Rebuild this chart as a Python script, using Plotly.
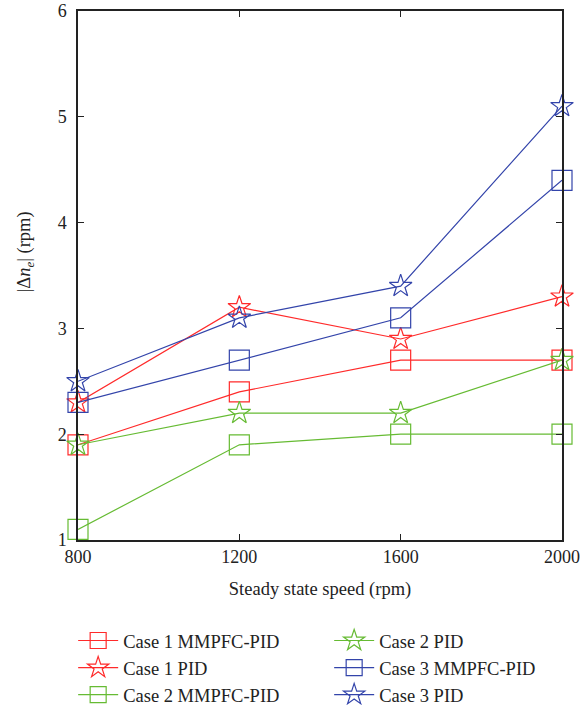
import plotly.graph_objects as go

speeds = [800, 1200, 1600, 2000]
case1_mmpfc = [1.9, 2.4, 2.7, 2.7]
case1_pid = [2.3, 3.2, 2.9, 3.3]
case2_mmpfc = [1.1, 1.9, 2.0, 2.0]
case2_pid = [1.9, 2.2, 2.2, 2.7]
case3_mmpfc = [2.3, 2.7, 3.1, 4.4]
case3_pid = [2.5, 3.1, 3.4, 5.1]

RED = "#FF2A2A"
GREEN = "#66BB33"
BLUE = "#3344AA"

series = [
    ("Case 1 MMPFC-PID", case1_mmpfc, RED, "square-open"),
    ("Case 1 PID", case1_pid, RED, "star-open"),
    ("Case 2 MMPFC-PID", case2_mmpfc, GREEN, "square-open"),
    ("Case 2 PID", case2_pid, GREEN, "star-open"),
    ("Case 3 MMPFC-PID", case3_mmpfc, BLUE, "square-open"),
    ("Case 3 PID", case3_pid, BLUE, "star-open"),
]
# legend is row-wise in plotly; reorder so it reads column-wise
legend_order = [0, 3, 1, 4, 2, 5]

fig = go.Figure()
for rank, idx in enumerate(legend_order):
    name, vals, col, sym = series[idx]
    fig.add_trace(go.Scatter(
        x=speeds, y=vals, name=name, mode="lines+markers",
        line=dict(color=col, width=1.2),
        marker=dict(symbol=sym, size=20 if sym == "square-open" else 17,
                    color=col, line=dict(color=col, width=1.2)),
        cliponaxis=False, legendrank=rank + 1,
    ))

font = "Liberation Serif, Times New Roman, serif"
fig.update_layout(
    width=588, height=705,
    margin=dict(l=78, r=26, t=11, b=165, autoexpand=False),
    plot_bgcolor="white", paper_bgcolor="white",
    font=dict(family=font, size=18, color="#222222"),
    showlegend=True,
    legend=dict(orientation="h", x=-0.01, xanchor="left", y=-0.155, yanchor="top",
                entrywidth=201, tracegroupgap=0, itemwidth=40,
                font=dict(family=font, size=18.5, color="#222222"),
                traceorder="normal"),
    xaxis=dict(range=[800, 2000], tickvals=speeds, ticks="inside", ticklen=6,
               showline=True, linecolor="#222222", linewidth=1.5, mirror="ticks",
               showgrid=False, zeroline=False, tickcolor="#222222",
               title=dict(text="Steady state speed (rpm)", standoff=16,
                          font=dict(size=18.5))),
    yaxis=dict(range=[1, 6], tickvals=[1, 2, 3, 4, 5, 6], ticks="inside", ticklen=6,
               ticklabelstandoff=6,
               showline=True, linecolor="#222222", linewidth=1.5, mirror="ticks",
               showgrid=False, zeroline=False, tickcolor="#222222"),
    annotations=[dict(text="|Δ<i>n</i><sub><i>e</i></sub>| (rpm)", textangle=-90,
                      xref="paper", yref="paper", x=-0.109, y=0.544,
                      xanchor="center", yanchor="middle", showarrow=False,
                      font=dict(family=font, size=18.5, color="#222222"))],
)
fig.write_html("out.html")
